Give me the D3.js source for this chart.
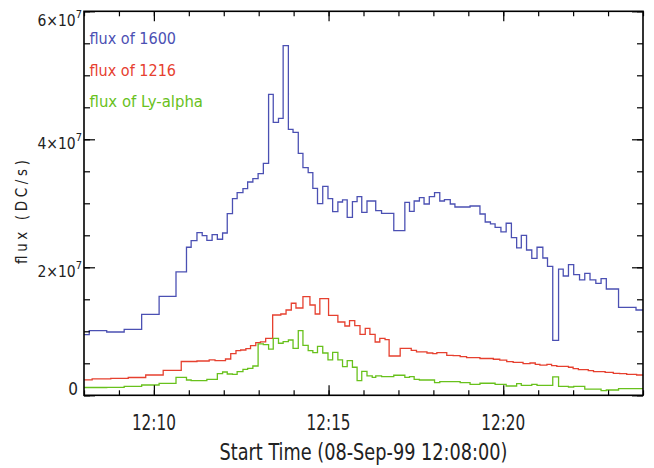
<!DOCTYPE html>
<html><head><meta charset="utf-8">
<script src="https://cdn.jsdelivr.net/npm/d3@7"></script>
<style>
body{margin:0;background:#fff}
svg{display:block}
text{font-family:"DejaVu Sans Condensed","DejaVu Sans",sans-serif;font-stretch:condensed}
</style>
</head><body>
<svg id="c" width="654" height="468"></svg>
<script>
// ---- data (time in seconds after 12:08:00, flux in units of 10^6 DC/s) ----
const timesA = [0,9,39,69,99,129,158,176,184,194,203,211,220,229,238,246,255,263,273,281,290,299,308,317,325,334,342,351,359,368,376,385,393,401,410,419,427,436,444,452,461,469,477,486,495,501,511,521,532,541,551,559,567,576,584,593,602,611,619,629,637,646,654,663,671,680,689,698,706,716,725,734,743,751,760,769,778,788,796,805,815,823,832,841,851,860,869,879,888,897,907,918,927,938,948];
const flux1600 = [9.47,10.09,9.89,10.31,12.66,15.47,19.27,23.13,24.16,25.41,24.94,24.22,25.09,24.38,25.36,28.38,30.72,31.66,32.28,33.33,33.84,34.63,36.25,47.03,42.66,43.28,54.63,41.56,41.09,37.81,35.56,34.78,32.34,29.94,32.66,30.72,28.69,30.20,30.52,27.81,30.25,31.03,28.59,30.36,30.36,28.84,28.44,28.44,25.72,25.72,30.16,28.75,30.36,30.88,29.89,31.03,31.66,30.36,30.56,29.89,29.42,29.42,29.42,29.58,29.58,28.33,27.08,26.77,26.25,25.52,26.88,24.63,23.02,25.0,22.70,21.41,23.13,21.45,20.16,8.59,19.73,18.64,20.41,18.84,18.02,19.06,18.02,17.50,18.22,16.61,16.61,13.75,13.75,13.75,13.33];
const fluxLya = [1.22,1.22,1.25,1.41,1.61,1.86,2.81,2.39,2.28,2.28,2.28,2.5,2.5,3.38,3.64,3.33,3.28,3.69,4.06,4.22,4.58,8.02,7.91,7.2,8.91,8.13,8.38,8.64,7.34,10.09,7.81,6.97,6.66,7.66,6.61,5.52,6.72,5.52,4.47,5.41,4.38,2.28,3.75,3.02,2.81,3.02,2.91,2.91,3.13,3.13,2.81,2.91,2.5,2.39,2.39,2.39,1.97,2.13,2.13,2.13,2.13,1.97,1.97,1.72,1.72,1.88,1.88,1.88,1.72,1.72,1.45,1.45,1.81,1.56,1.56,1.72,1.56,1.56,1.56,2.89,1.41,1.41,1.30,1.41,1.41,0.98,0.98,0.98,0.72,0.83,0.83,1.03,1.03,1.03,1.03];
const times1216 = [0,14,46,76,106,136,167,194,215,225,243,252,261,269,278,286,295,303,312,324,338,347,356,364,376,388,397,405,420,436,448,456,465,474,483,491,500,508,517,524,543,562,571,589,599,606,623,634,646,657,680,703,714,726,737,754,766,775,783,795,803,812,832,840,849,866,875,895,909,920,932,949];
const flux1216 = [2.40,2.58,2.66,2.78,3.17,3.9,5.28,5.36,5.52,5.41,5.67,6.5,6.97,7.08,7.28,7.75,8.22,8.35,8.91,12.55,12.70,13.33,14.38,13.64,15.41,14.11,12.70,15.09,12.5,11.45,10.83,11.66,10.88,9.53,10.47,9.53,8.33,8.91,8.69,6.14,7.34,7.03,6.77,6.61,6.5,6.66,6.25,6.2,6.03,5.88,5.75,5.63,5.5,5.25,5.16,4.94,5.05,4.84,4.73,4.84,4.63,4.53,4.38,4.16,4.0,3.84,3.69,3.59,3.44,3.38,3.28,3.17];
const timeEnd = 960;
const seriesNames = ["flux of 1600","flux of 1216","flux of Ly-alpha"];
const seriesColors = ["#4b50b3","#e6402f","#68c11c"];
const xMajorTicks = [120,420,720];
const xMajorLabels = ["12:10","12:15","12:20"];
const xMinorTicks = [0,60,120,180,240,300,360,420,480,540,600,660,720,780,840,900,960];
const yMajorTicks = [0,20,40,60];
const yMantissa = ["0","2×10","4×10","6×10"];
const yExponent = ["","7","7","7"];
const yMinorTicks = [0,5,10,15,20,25,30,35,40,45,50,55,60];
const xTitle = "Start Time (08-Sep-99 12:08:00)";
const yTitle = "flux (DC/s)";

// ---- layout ----
const L=84, R=643, T=11.3, B=395.3;
const svg = d3.select("#c");
const x = d3.scaleLinear().domain([0,timeEnd]).range([L,R]);
const y = d3.scaleLinear().domain([0,60]).range([B,T]);

svg.append("clipPath").attr("id","clip").append("rect")
  .attr("x",L).attr("y",T).attr("width",R-L).attr("height",B-T);

const line = d3.line().x(d=>x(d[0])).y(d=>y(d[1])).curve(d3.curveStepAfter);
function pts(ts, vs){ const p = ts.map((t,i)=>[t,vs[i]]); p.push([timeEnd, vs[vs.length-1]]); return p; }
const series = [pts(timesA,flux1600), pts(times1216,flux1216), pts(timesA,fluxLya)];
const gS = svg.append("g").attr("clip-path","url(#clip)");
series.forEach((s,i)=>{
  gS.append("path").attr("d",line(s)).attr("fill","none")
    .attr("stroke",seriesColors[i]).attr("stroke-width",1.3);
});

// ---- axes ----
function styleAxis(g){ g.select(".domain").remove(); g.selectAll("line").attr("stroke","#000").attr("stroke-width",1.2); }
svg.append("g").attr("transform",`translate(0,${B})`).call(d3.axisBottom(x).tickValues(xMinorTicks).tickSize(-5).tickFormat("")).call(styleAxis);
svg.append("g").attr("transform",`translate(0,${B})`).call(d3.axisBottom(x).tickValues(xMajorTicks).tickSize(-10).tickFormat("")).call(styleAxis);
svg.append("g").attr("transform",`translate(0,${T})`).call(d3.axisTop(x).tickValues(xMinorTicks).tickSize(-5).tickFormat("")).call(styleAxis);
svg.append("g").attr("transform",`translate(0,${T})`).call(d3.axisTop(x).tickValues(xMajorTicks).tickSize(-10).tickFormat("")).call(styleAxis);
svg.append("g").attr("transform",`translate(${L},0)`).call(d3.axisLeft(y).tickValues(yMinorTicks).tickSize(-6).tickFormat("")).call(styleAxis);
svg.append("g").attr("transform",`translate(${L},0)`).call(d3.axisLeft(y).tickValues(yMajorTicks).tickSize(-11).tickFormat("")).call(styleAxis);
svg.append("g").attr("transform",`translate(${R},0)`).call(d3.axisRight(y).tickValues(yMinorTicks).tickSize(-6).tickFormat("")).call(styleAxis);
svg.append("g").attr("transform",`translate(${R},0)`).call(d3.axisRight(y).tickValues(yMajorTicks).tickSize(-11).tickFormat("")).call(styleAxis);

svg.append("rect").attr("x",L).attr("y",T).attr("width",R-L).attr("height",B-T)
  .attr("fill","none").attr("stroke","#000").attr("stroke-width",1.6);

// x tick labels
svg.selectAll(".xl").data(xMajorTicks).enter().append("text")
  .attr("x",d=>x(d)).attr("y",430).attr("text-anchor","middle")
  .attr("font-size",22).attr("textLength",44).attr("lengthAdjust","spacingAndGlyphs")
  .attr("fill","#222").text((d,i)=>xMajorLabels[i]);

// y tick labels (mantissa + superscript exponent in one text element)
yMajorTicks.forEach((v,i)=>{
  const base = Math.min(Math.max(y(v)+9.5, 26), B);
  const t = svg.append("text").attr("y",base).attr("fill","#222").attr("text-anchor","end");
  if(yExponent[i]){
    t.attr("x",82).attr("font-size",15.5);
    t.append("tspan").text(yMantissa[i]);
    t.append("tspan").attr("dy",-8).attr("font-size",11).text(yExponent[i]);
  } else {
    t.attr("x",78).attr("font-size",17).text(yMantissa[i]);
  }
});

// axis titles
svg.append("text").attr("x",(L+R)/2).attr("y",460).attr("text-anchor","middle")
  .attr("font-size",23).attr("textLength",288).attr("lengthAdjust","spacingAndGlyphs")
  .attr("fill","#222").text(xTitle);
svg.append("text").attr("transform","translate(26.5,212) rotate(-90)").attr("text-anchor","middle")
  .attr("font-size",15).attr("textLength",104).attr("lengthAdjust","spacing")
  .attr("fill","#222").text(yTitle);

// legend
const legW=[86.5,86.5,113.5];
seriesNames.forEach((n,i)=>{
  svg.append("text").attr("x",89.5).attr("y",44+i*31.7).attr("font-size",16.5)
    .attr("textLength",legW[i]).attr("lengthAdjust","spacingAndGlyphs")
    .attr("fill",seriesColors[i]).text(n);
});
</script>
</body></html>
